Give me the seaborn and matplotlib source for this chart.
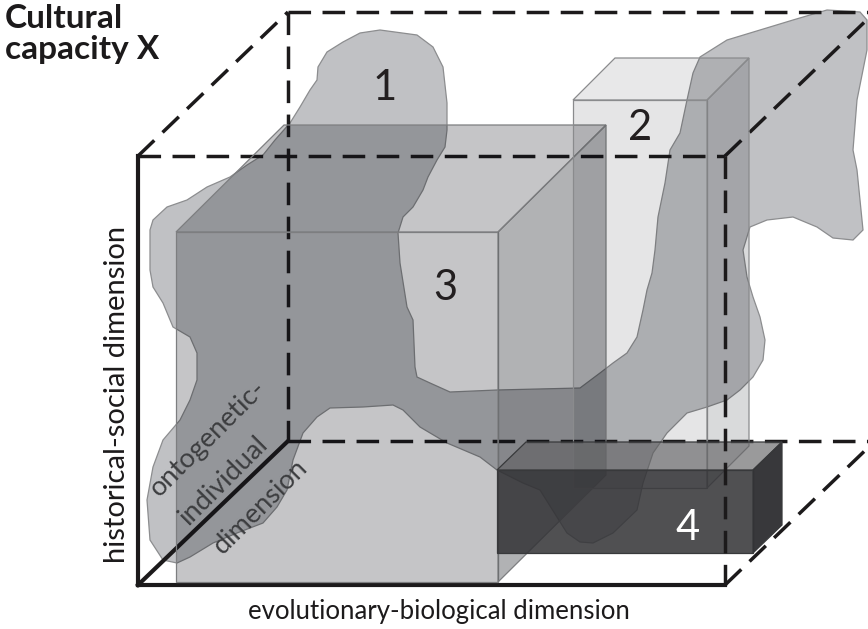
import matplotlib
matplotlib.use("Agg")
import matplotlib.pyplot as plt
import seaborn as sns
from matplotlib.patches import Polygon

# ---- diagram data (pixel coordinates of the reference, y grows downward) ----
# outer cube: front face corners and depth offset
cube_front = [138, 156, 725, 585]          # left, top, right, bottom
cube_depth = [150, -144]

# irregular region 1 outline
blob_x = [177, 190, 213, 237, 263, 277, 287, 293, 303, 317, 330, 363, 393, 403, 420,
          447, 480, 497, 523, 540, 567, 580, 593, 613, 637, 643, 653, 667, 687, 707,
          727, 740, 753, 763, 765, 760, 753, 747, 743, 750, 767, 793, 817, 833, 853,
          863, 860, 857, 853, 857, 867, 867, 860, 827, 793, 760, 727, 700, 693, 687,
          680, 670, 665, 658, 655, 652, 647, 643, 637, 627, 613, 600, 580, 497, 450,
          430, 417, 415, 413, 407, 400, 398, 403, 413, 423, 428, 437, 445, 447, 447,
          443, 433, 417, 380, 360, 343, 327, 318, 317, 310, 300, 290, 275, 263, 247,
          230, 207, 187, 167, 153, 150, 150, 153, 163, 173, 190, 197, 197, 190, 180,
          163, 153, 147, 150, 163]
blob_y = [563, 557, 543, 533, 523, 507, 490, 460, 433, 417, 408, 407, 405, 410, 427,
          443, 457, 470, 483, 490, 533, 542, 543, 533, 510, 483, 453, 433, 413, 407,
          400, 390, 377, 360, 340, 317, 297, 277, 250, 227, 220, 217, 227, 238, 240,
          230, 200, 170, 150, 100, 50, 20, 12, 10, 20, 30, 40, 57, 73, 100,
          133, 150, 183, 217, 250, 273, 290, 310, 337, 353, 363, 373, 388, 390, 392,
          383, 377, 367, 320, 307, 263, 233, 217, 207, 190, 177, 160, 147, 130, 103,
          67, 47, 35, 30, 33, 42, 52, 67, 80, 90, 107, 123, 140, 155, 165,
          177, 187, 200, 207, 220, 230, 270, 287, 303, 327, 337, 353, 380, 400, 420,
          440, 467, 500, 540, 560]

# boxes 2, 3, 4: front left, front top, front right, front bottom, depth dx, depth dy
box3 = [176, 232, 498, 582, 108, -107]
box2 = [573, 100, 707, 488, 42, -42]
box4 = [497, 470, 753, 553, 29, -28]

labels = ["1", "2", "3", "4"]
label_x = [385, 640, 445, 688]
label_y = [88, 128, 288, 528]
label_colors = ["#231f20", "#231f20", "#231f20", "white"]

onto_lines = ["ontogenetic-", "individual", "dimension"]
onto_x = [208, 224, 261]
onto_y = [438, 480, 507]

sns.set_theme(style="white")
plt.rcParams["font.family"] = ["Lato", "DejaVu Sans"]

fig = plt.figure(figsize=(8.68, 6.29), dpi=100)
ax = fig.add_axes([0, 0, 1, 1])
ax.set_xlim(0, 868)
ax.set_ylim(629, 0)
ax.axis("off")

ink = "#1c1a1b"
dash = (0, (6.5, 3.3))


def box_faces(b):
    l, t, r, bt, dx, dy = b
    front = [(l, t), (r, t), (r, bt), (l, bt)]
    top = [(l, t), (l + dx, t + dy), (r + dx, t + dy), (r, t)]
    side = [(r, t), (r + dx, t + dy), (r + dx, bt + dy), (r, bt)]
    return front, top, side


def draw_box(b, colors, alphas, edge, z):
    for face, c, a in zip(box_faces(b), colors, alphas):
        ax.add_patch(Polygon(face, closed=True, facecolor=(*c, a), edgecolor=edge,
                             linewidth=0.9, zorder=z))


# region 1
ax.add_patch(Polygon(list(zip(blob_x, blob_y)), closed=True,
                     facecolor=(0.02, 0.03, 0.08, 0.25), edgecolor="#8c8d8f",
                     linewidth=0.9, zorder=1))

# cube edges
l, t, r, b = cube_front
dx, dy = cube_depth
dashed = [
    ([l, r], [t, t]), ([r, r], [t, b]),
    ([l, l + dx], [t, t + dy]), ([r, r + dx], [t, t + dy]),
    ([l + dx, r + dx], [t + dy, t + dy]), ([l + dx, l + dx], [t + dy, b + dy]),
    ([l + dx, r + dx], [b + dy, b + dy]), ([r, r + dx], [b, b + dy]),
]
for i, (xs, ys) in enumerate(dashed):
    ax.plot(xs, ys, color=ink, lw=2.5, linestyle=dash, zorder=6 if i == 1 else 2,
            solid_capstyle="butt", dash_capstyle="butt")

for xs, ys in [([l, r], [b, b]), ([l, l], [b, t]), ([l, l + dx], [b, b + dy])]:
    ax.plot(xs, ys, color=ink, lw=3.0, solid_capstyle="projecting", zorder=2)

# boxes
draw_box(box3, [(0.02, 0.03, 0.06)] * 3, [0.23, 0.23, 0.31], "#7d7e80", 3)
draw_box(box2, [(0.02, 0.03, 0.06)] * 3, [0.10, 0.09, 0.15], "#8a8b8d", 3)
draw_box(box4, [(0.20, 0.20, 0.21), (0.38, 0.38, 0.39), (0.17, 0.17, 0.18)],
         [0.86, 0.64, 0.94], "#38393b", 4)

for s, x, y, c in zip(labels, label_x, label_y, label_colors):
    ax.text(x, y, s, fontsize=30, color=c, ha="center", va="center", zorder=7)

ax.text(5, 4, "Cultural\ncapacity X", fontsize=24, fontweight="bold", color=ink,
        ha="left", va="top", linespacing=1.07, zorder=7)
ax.text(117, 394, "historical-social dimension", fontsize=21, color=ink,
        rotation=90, ha="center", va="center", zorder=7)
ax.text(439, 611, "evolutionary-biological dimension", fontsize=18.5, color=ink,
        ha="center", va="center", zorder=7)

for s, x, y in zip(onto_lines, onto_x, onto_y):
    ax.text(x, y, s, fontsize=19.5, color="#3c3d3f", rotation=45, rotation_mode="anchor",
            ha="center", va="center", zorder=7)

fig.savefig("out.png", dpi=100)
